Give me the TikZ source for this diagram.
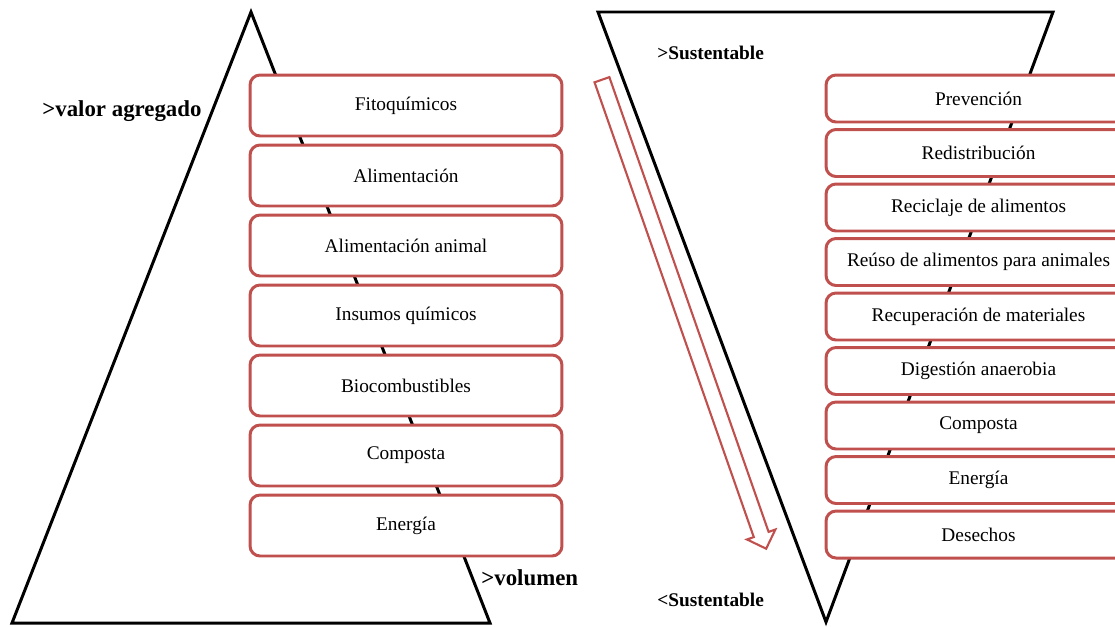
\documentclass[tikz,border=0pt]{standalone}
\usepackage{fontspec}
\setmainfont{Liberation Serif}
\usetikzlibrary{shapes.arrows}
\definecolor{boxred}{RGB}{192,80,77}

\begin{document}
\begin{tikzpicture}[x=0.02cm,y=-0.02cm]
						\useasboundingbox (0,0) rectangle (1115,626);
						
						\draw [line width=1.7pt] (251,12) -- (490,623) -- (12,623) -- cycle;
						\draw [line width=1.7pt] (598,12) -- (1053,12) -- (826,622) -- cycle;
						
						\begin{scope}[every node/.style={draw=boxred,line width=1.7pt,fill=white,rounded corners=0.2cm,minimum width=6.24cm,minimum height=1.22cm,font=\fontsize{11}{13}\selectfont}]
							\node (fito) at (406,105.5) {Fitoquímicos};
							\node (alim) at (406,175.5) {Alimentación};
							\node (alan) at (406,245.5) {Alimentación animal};
							\node (insu) at (406,315.5) {Insumos químicos};
							\node (bioc) at (406,385.5) {Biocombustibles};
							\node (comp) at (406,455.5) {Composta};
							\node (ener) at (406,525.5) {Energía};
						\end{scope}
						
						\begin{scope}[every node/.style={draw=boxred,line width=1.7pt,fill=white,rounded corners=0.2cm,minimum width=6.1cm,minimum height=0.94cm,font=\fontsize{11}{13}\selectfont}]
							\node (prev) at (978.5,98.5) {Prevención};
							\node (redi) at (978.5,153) {Redistribución};
							\node (reci) at (978.5,207.5) {Reciclaje de alimentos};
							\node (reus) at (978.5,262) {Reúso de alimentos para animales};
							\node (recu) at (978.5,316.5) {Recuperación de materiales};
							\node (dige) at (978.5,371) {Digestión anaerobia};
							\node (compb) at (978.5,425.5) {Composta};
							\node (enerb) at (978.5,480) {Energía};
							\node (dese) at (978.5,534.5) {Desechos};
						\end{scope}
						
						\node (flecha) [single arrow,draw=boxred,line width=1.2pt,inner xsep=0pt,inner ysep=0.136cm,minimum width=0.56cm,minimum height=9.94cm,single arrow head extend=0.144cm,rotate=-70.7] at (682.75,310.5) {};
						
						\begin{scope}[every node/.style={anchor=west,inner sep=0pt,font=\bfseries\fontsize{13}{15}\selectfont}]
							\node (valor) at (42,111) {>valor agregado};
							\node (volu) at (481,578) {>volumen};
						\end{scope}
						\begin{scope}[every node/.style={anchor=west,inner sep=0pt,font=\bfseries\fontsize{11}{13}\selectfont}]
							\node (sustA) at (657,53) {>Sustentable};
							\node (sustB) at (657,600) {<Sustentable};
						\end{scope}
					\end{tikzpicture}
\end{document}
